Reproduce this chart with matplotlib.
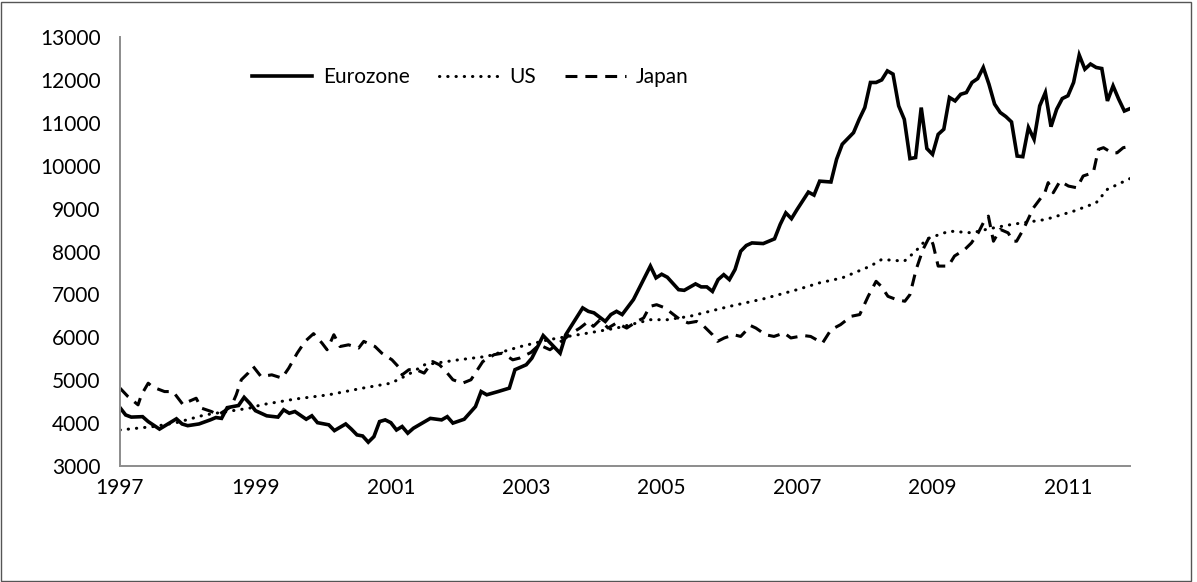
import matplotlib
matplotlib.use('Agg')
import matplotlib.pyplot as plt
from matplotlib.patches import Rectangle

plt.rcParams['font.family'] = ['Lato', 'DejaVu Sans']

# monthly index: 0 = Jan 1997, 179 = Dec 2011
eu_month = [0, 1, 2, 4, 5, 7, 10, 11, 12, 14, 16, 17, 18, 19, 21, 22, 23, 24, 26, 28,
            29, 30, 31, 33, 34, 35, 37, 38, 40, 41, 42, 43, 44, 45, 46, 47, 48, 49, 50, 51,
            52, 55, 57, 58, 59, 61, 63, 64, 65, 67, 69, 70, 72, 73, 75, 78, 79, 82, 83, 84,
            86, 87, 88, 89, 91, 94, 95, 96, 97, 99, 100, 102, 103, 104, 105, 106, 107, 108, 109, 110,
            111, 112, 114, 115, 116, 117, 118, 119, 120, 122, 123, 124, 126, 127, 128, 130, 131, 132, 133, 134,
            135, 136, 137, 138, 139, 140, 141, 142, 143, 144, 145, 146, 147, 148, 149, 150, 151, 152, 153, 154,
            155, 156, 157, 158, 159, 160, 161, 162, 163, 164, 165, 166, 167, 168, 169, 170, 171, 172, 173, 174,
            175, 176, 177, 178, 179]
eu_value = [4360, 4190, 4140, 4150, 4035, 3860, 4100, 3980, 3940, 3980, 4075, 4130, 4110, 4360, 4410, 4600, 4460, 4290, 4170, 4140,
            4310, 4230, 4270, 4090, 4170, 4010, 3960, 3825, 3980, 3860, 3725, 3700, 3555, 3685, 4035, 4075, 4010, 3840, 3920, 3765,
            3880, 4110, 4075, 4150, 4000, 4090, 4385, 4735, 4660, 4735, 4815, 5245, 5360, 5515, 6040, 5630, 6060, 6685, 6605, 6570,
            6370, 6530, 6605, 6530, 6880, 7660, 7385, 7470, 7400, 7110, 7095, 7245, 7175, 7175, 7070, 7345, 7460, 7345, 7580, 8005,
            8140, 8200, 8185, 8240, 8295, 8630, 8900, 8765, 8980, 9385, 9315, 9640, 9620, 10150, 10500, 10770, 11080, 11355, 11940, 11940,
            12000, 12210, 12135, 11395, 11080, 10165, 10190, 11355, 10400, 10265, 10730, 10850, 11590, 11510, 11665, 11705, 11940, 12030, 12290, 11900,
            11435, 11240, 11145, 11020, 10225, 10210, 10890, 10615, 11395, 11705, 10910, 11315, 11565, 11630, 11940, 12580, 12250, 12370, 12290, 12265,
            11510, 11860, 11550, 11275, 11330]

us_month = [0, 6, 10, 15, 19, 23, 25, 31, 37, 43, 48, 51, 54, 60, 65, 71, 76, 83, 88, 94,
            97, 101, 108, 114, 120, 124, 128, 133, 135, 139, 141, 143, 147, 151, 154, 158, 164, 169, 173, 175,
            179]
us_value = [3840, 3920, 4010, 4190, 4270, 4350, 4425, 4560, 4660, 4815, 4930, 5125, 5360, 5475, 5555, 5785, 5945, 6100, 6215, 6410,
            6410, 6490, 6720, 6895, 7110, 7270, 7385, 7660, 7815, 7775, 8005, 8295, 8475, 8435, 8530, 8630, 8745, 8940, 9135, 9450,
            9700]

jp_month = [0, 1.4, 3.2, 3.8, 5.0, 5.8, 7.9, 9.4, 11.2, 12.1, 13.5, 14.4, 16.2, 17.4, 19.7, 20.6, 21.5, 22.7, 23.6, 25.0,
            26.9, 28.7, 29.9, 31.4, 32.8, 34.3, 35.8, 36.7, 37.9, 39.0, 40.5, 42.3, 43.2, 45.2, 46.4, 48.2, 49.4, 50.0, 51.2, 52.5,
            53.9, 55.4, 56.6, 57.5, 59.0, 60.7, 62.2, 64.3, 66.3, 67.8, 69.6, 70.8, 72.8, 74.3, 76.2, 78.6, 80.1, 81.5, 83.0, 83.9,
            85.1, 86.5, 88.0, 89.8, 91.6, 92.8, 93.9, 95.1, 96.6, 98.1, 99.3, 100.7, 102.2, 103.5, 105.0, 105.9, 107.1, 108.8, 110.0, 111.8,
            112.7, 114.4, 115.9, 117.7, 118.9, 121.2, 122.4, 124.5, 126.0, 127.7, 129.6, 131.1, 132.6, 134.0, 134.9, 136.1, 137.6, 139.1, 140.0, 141.1,
            142.3, 143.5, 144.1, 145.0, 146.8, 147.9, 149.7, 150.9, 152.1, 153.3, 153.9, 154.8, 156.0, 157.4, 158.3, 158.9, 160.1, 161.9, 163.9, 164.5,
            165.4, 166.6, 168.1, 169.6, 170.7, 172.5, 173.4, 174.3, 175.8, 176.7, 177.8, 179]
jp_value = [4815, 4620, 4425, 4660, 4930, 4840, 4735, 4735, 4425, 4500, 4580, 4350, 4270, 4190, 4385, 4660, 5010, 5165, 5320, 5085,
            5125, 5050, 5280, 5630, 5905, 6085, 5865, 5710, 6060, 5785, 5825, 5750, 5905, 5785, 5630, 5475, 5305, 5125, 5245, 5245,
            5165, 5435, 5360, 5245, 5010, 4930, 5010, 5435, 5595, 5630, 5475, 5515, 5645, 5825, 5710, 5945, 6100, 6215, 6370, 6255,
            6410, 6215, 6335, 6215, 6370, 6450, 6720, 6760, 6685, 6530, 6410, 6335, 6370, 6255, 6060, 5905, 5985, 6060, 6020, 6270,
            6215, 6060, 6020, 6100, 5985, 6040, 6020, 5865, 6175, 6295, 6490, 6530, 6955, 7305, 7190, 6955, 6880, 6840, 6995, 7580,
            8045, 8355, 8165, 7660, 7660, 7895, 8045, 8200, 8435, 8745, 8825, 8240, 8515, 8435, 8240, 8240, 8515, 9020, 9370, 9605,
            9370, 9640, 9525, 9485, 9760, 9840, 10380, 10420, 10300, 10300, 10420, 10450]

year_labels = ['1997', '1999', '2001', '2003', '2005', '2007', '2009', '2011']
label_months = [0, 24, 48, 72, 96, 120, 144, 168]

fig = plt.figure(figsize=(11.97, 5.82), dpi=100)
ax = fig.add_axes([120/1197, 116/582, 1010/1197, 429/582])

ax.plot(eu_month, eu_value, color='black', lw=2.6, solid_joinstyle='miter', label='Eurozone')
ax.plot(us_month, us_value, color='black', lw=2.2, linestyle=(0, (0.1, 2.6)),
        dash_capstyle='round', label='US')
ax.plot(jp_month, jp_value, color='black', lw=2.2, linestyle=(0, (3.9, 2.6)), label='Japan')

ax.set_xlim(0, 179)
ax.set_ylim(3000, 13000)
ax.set_yticks(range(3000, 13001, 1000))
ax.set_xticks(label_months)
ax.set_xticklabels(year_labels)
ax.tick_params(axis='both', length=0, labelsize=15)
ax.tick_params(axis='y', pad=14)
ax.tick_params(axis='x', pad=9)

for s in ['top', 'right']:
    ax.spines[s].set_visible(False)
for s in ['left', 'bottom']:
    ax.spines[s].set_color('#8c8c8c')
    ax.spines[s].set_linewidth(1.4)

ax.legend(loc='center', bbox_to_anchor=(0.347, 0.907), ncol=3, frameon=False,
          fontsize=15, handlelength=2.9, handletextpad=0.5, columnspacing=1.4)

fig.patches.append(Rectangle((0.5/1197, 1.5/582), 1190/1197, 579/582, transform=fig.transFigure,
                             fill=False, edgecolor='#555555', lw=1))

fig.savefig('out.png', dpi=100)
